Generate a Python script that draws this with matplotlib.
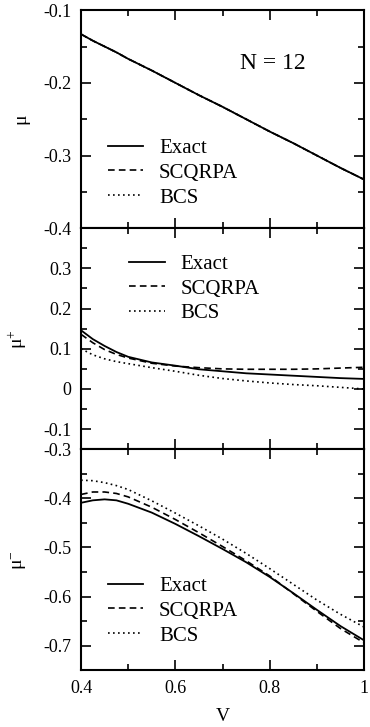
import numpy as np
import matplotlib
matplotlib.use('Agg')
import matplotlib.pyplot as plt
from matplotlib.ticker import MultipleLocator

plt.rcParams['font.family'] = ['Liberation Serif', 'DejaVu Serif']
plt.rcParams['mathtext.fontset'] = 'custom'
plt.rcParams['mathtext.rm'] = 'Liberation Serif'
plt.rcParams['mathtext.it'] = 'Liberation Serif:italic'

# V grid
V = [0.4, 0.425, 0.45, 0.475, 0.5, 0.55, 0.6, 0.65, 0.7, 0.75, 0.8, 0.85, 0.9, 0.95, 1.0]

# chemical potential mu (all three methods coincide)
mu_exact = [-0.133, -0.142, -0.150, -0.158, -0.167, -0.183, -0.200, -0.217, -0.233,
            -0.250, -0.267, -0.283, -0.300, -0.317, -0.333]
mu_scqrpa = mu_exact
mu_bcs = mu_exact

# mu+
mup_exact = [0.146, 0.124, 0.107, 0.092, 0.080, 0.066, 0.058, 0.049, 0.044,
             0.039, 0.036, 0.033, 0.030, 0.027, 0.025]
mup_scqrpa = [0.136, 0.115, 0.098, 0.086, 0.077, 0.064, 0.057, 0.053, 0.050,
              0.049, 0.049, 0.049, 0.050, 0.052, 0.054]
mup_bcs = [0.100, 0.085, 0.075, 0.068, 0.063, 0.053, 0.044, 0.034, 0.026,
           0.020, 0.015, 0.011, 0.008, 0.004, 0.0]

# mu-
mum_exact = [-0.409, -0.404, -0.402, -0.404, -0.411, -0.429, -0.452, -0.477, -0.503,
             -0.530, -0.560, -0.593, -0.627, -0.660, -0.689]
mum_scqrpa = [-0.392, -0.387, -0.387, -0.390, -0.397, -0.418, -0.443, -0.470, -0.498,
              -0.527, -0.558, -0.594, -0.630, -0.665, -0.694]
mum_bcs = [-0.363, -0.364, -0.368, -0.374, -0.382, -0.405, -0.430, -0.456, -0.483,
           -0.512, -0.543, -0.575, -0.607, -0.636, -0.662]

panels = [
    ('μ', mu_exact, mu_scqrpa, mu_bcs, (-0.4, -0.1), [-0.4, -0.3, -0.2, -0.1]),
    (r'μ$^{+}$', mup_exact, mup_scqrpa, mup_bcs, (-0.15, 0.4), [-0.1, 0, 0.1, 0.2, 0.3]),
    (r'μ$^{-}$', mum_exact, mum_scqrpa, mum_bcs, (-0.75, -0.3), [-0.7, -0.6, -0.5, -0.4, -0.3]),
]

fig = plt.figure(figsize=(3.7, 7.27), dpi=100)
gs = fig.add_gridspec(3, 1, height_ratios=[218, 221, 221], hspace=0,
                      left=0.219, right=0.984, top=0.986, bottom=0.078)

# legend anchors (axes fraction)
leg_pos = [(0.095, 0.412), (0.17, 0.882), (0.095, 0.425)]

for i, (lab, ex, sc, bc, ylim, yt) in enumerate(panels):
    ax = fig.add_subplot(gs[i])
    ax.plot(V, ex, color='black', lw=1.3, label='Exact')
    ax.plot(V, sc, color='black', lw=1.2, ls=(0, (4, 2.5)), label='SCQRPA')
    ax.plot(V, bc, color='black', lw=1.2, ls=(0, (1, 2)), label='BCS')
    ax.set_xlim(0.4, 1.0)
    ax.set_ylim(*ylim)
    ax.set_yticks(yt)
    ax.set_yticklabels([('%g' % t) for t in yt])
    ax.yaxis.set_minor_locator(MultipleLocator(0.05))
    ax.set_xticks([0.4, 0.6, 0.8, 1.0])
    ax.xaxis.set_minor_locator(MultipleLocator(0.1))
    ax.tick_params(which='both', direction='in', top=True, right=True, labelsize=13,
                   width=1.2, pad=7)
    ax.tick_params(which='major', length=7)
    ax.tick_params(which='minor', length=4)
    for s in ax.spines.values():
        s.set_linewidth(1.5)
    ax.set_ylabel(lab, fontsize=14, labelpad=10)
    if i < 2:
        ax.tick_params(labelbottom=False)
    else:
        ax.set_xticklabels(['0.4', '0.6', '0.8', '1'])
        ax.set_xlabel('V', fontsize=14, labelpad=8)
    ax.legend(loc='upper left', bbox_to_anchor=leg_pos[i], frameon=False, fontsize=15,
              handlelength=1.7, handletextpad=0.75, labelspacing=0.25, borderpad=0,
              borderaxespad=0)
    if i == 0:
        ax.text(0.56, 0.73, 'N = 12', transform=ax.transAxes, fontsize=17)

fig.savefig('out.png', dpi=100)
